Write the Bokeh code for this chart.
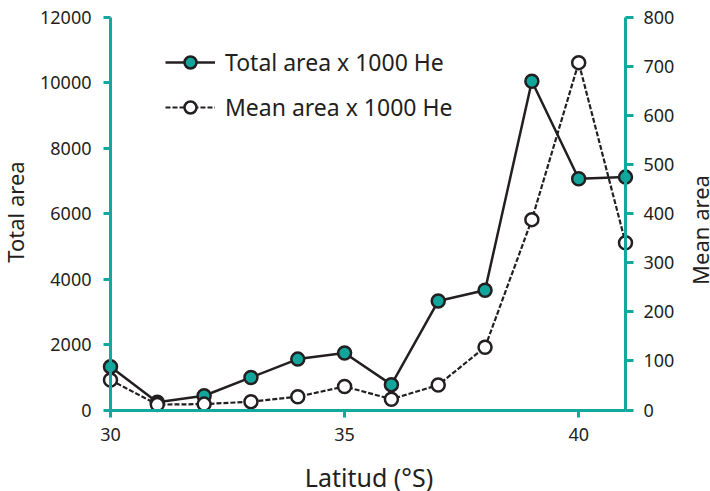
import math
from bokeh.plotting import figure
from bokeh.models import (LinearAxis, Range1d, FixedTicker, Legend, LegendItem,
                          ColumnDataSource, Label)
from bokeh.embed import file_html
from bokeh.resources import INLINE

# ---- data ----
latitude = [30, 31, 32, 33, 34, 35, 36, 37, 38, 39, 40, 41]
total_area = [1320, 235, 436, 995, 1556, 1745, 775, 3330, 3660, 10050, 7070, 7120]
mean_area = [61, 11, 12, 17, 27, 48, 22, 51, 128, 388, 708, 341]
x_ticks = [30, 35, 40]
left_ticks = [0, 2000, 4000, 6000, 8000, 10000, 12000]
right_ticks = [0, 100, 200, 300, 400, 500, 600, 700, 800]
x_label = "Latitud (°S)"
left_label = "Total area"
right_label = "Mean area"
legend_labels = ["Total area x 1000 He", "Mean area x 1000 He"]

TEAL = "#13a89e"
FILL = "#12a59c"
DARK = "#231f20"
FONT = "Noto Sans"

# ---- layout in pixels (frame = whole canvas, axes sit at data positions) ----
W, H = 710, 491
ax_x0, ax_x1 = 110, 625                # pixel of x=30 and x=41
ax_y0, ax_y1 = 409.5, 17               # pixel of y=0 and y=max

xs = (ax_x1 - ax_x0) / (latitude[-1] - latitude[0])
x_start = latitude[0] - ax_x0 / xs
x_end = latitude[-1] + (W - ax_x1) / xs

def yrange(top):
    s = (ax_y0 - ax_y1) / top
    return Range1d(-(H - ax_y0) / s, top + ax_y1 / s)

p = figure(width=W, height=H, output_backend="svg", toolbar_location=None,
           x_range=Range1d(x_start, x_end), y_range=yrange(left_ticks[-1]),
           x_axis_location=None, y_axis_location=None,
           min_border_left=0, min_border_right=0,
           min_border_top=0, min_border_bottom=0)
p.extra_y_ranges = {"mean": yrange(right_ticks[-1])}
p.outline_line_color = None
p.background_fill_color = "white"
p.border_fill_color = "white"
p.xgrid.visible = False
p.ygrid.visible = False

def style_axis(ax, out, standoff):
    ax.axis_line_color = TEAL
    ax.axis_line_width = 3
    ax.major_tick_line_color = TEAL
    ax.major_tick_line_width = 3
    ax.major_tick_out = out
    ax.major_tick_in = 0
    ax.minor_tick_line_color = None
    ax.major_label_standoff = standoff
    ax.major_label_text_font = FONT
    ax.major_label_text_font_size = "18px"
    ax.major_label_text_color = DARK

xa = LinearAxis(ticker=FixedTicker(ticks=x_ticks),
                bounds=(latitude[0], latitude[-1]), fixed_location=0)
style_axis(xa, 7, 11)
p.add_layout(xa, "below")

ya = LinearAxis(ticker=FixedTicker(ticks=left_ticks),
                bounds=(0, left_ticks[-1]), fixed_location=latitude[0])
style_axis(ya, 7, 12)
p.add_layout(ya, "left")

ra = LinearAxis(y_range_name="mean", ticker=FixedTicker(ticks=right_ticks),
                bounds=(0, right_ticks[-1]), fixed_location=latitude[-1])
style_axis(ra, 8, 10)
p.add_layout(ra, "right")

# axis titles (screen units measured from the canvas bottom-left)
title_style = dict(x_units="screen", y_units="screen", text_font=FONT,
                   text_color=DARK, text_align="center", text_baseline="alphabetic")
p.add_layout(Label(x=368.5, y=H - 476, text=x_label, text_font_size="25px", **title_style))
p.add_layout(Label(x=14, y=H - 211.5, text=left_label, angle=math.pi / 2,
                   text_font_size="22px", **title_style))
p.add_layout(Label(x=699, y=H - 229.5, text=right_label, angle=math.pi / 2,
                   text_font_size="22px", **title_style))

src = ColumnDataSource(dict(x=latitude, t=total_area, m=mean_area))

l1 = p.line("x", "t", source=src, line_color=DARK, line_width=2.5)
l2 = p.line("x", "m", source=src, line_color=DARK, line_width=2.2,
            line_dash="5 2", y_range_name="mean")
s1 = p.scatter("x", "t", source=src, size=13, fill_color=FILL,
               line_color=DARK, line_width=2.5)
s2 = p.scatter("x", "m", source=src, size=13, fill_color="white",
               line_color=DARK, line_width=2.5, y_range_name="mean")

legend = Legend(items=[LegendItem(label=legend_labels[0], renderers=[l1, s1]),
                       LegendItem(label=legend_labels[1], renderers=[l2, s2])],
                location=(165, H - 123), orientation="vertical")
legend.border_line_color = None
legend.background_fill_color = None
legend.background_fill_alpha = 0
legend.padding = 0
legend.margin = 0
legend.glyph_width = 50
legend.glyph_height = 30
legend.label_height = 30
legend.spacing = 13
legend.label_standoff = 10
legend.label_text_font = FONT
legend.label_text_font_size = "23px"
legend.label_text_color = DARK
legend.label_text_baseline = "middle"
p.add_layout(legend, "center")

open("out.html", "w").write(file_html(p, INLINE))
